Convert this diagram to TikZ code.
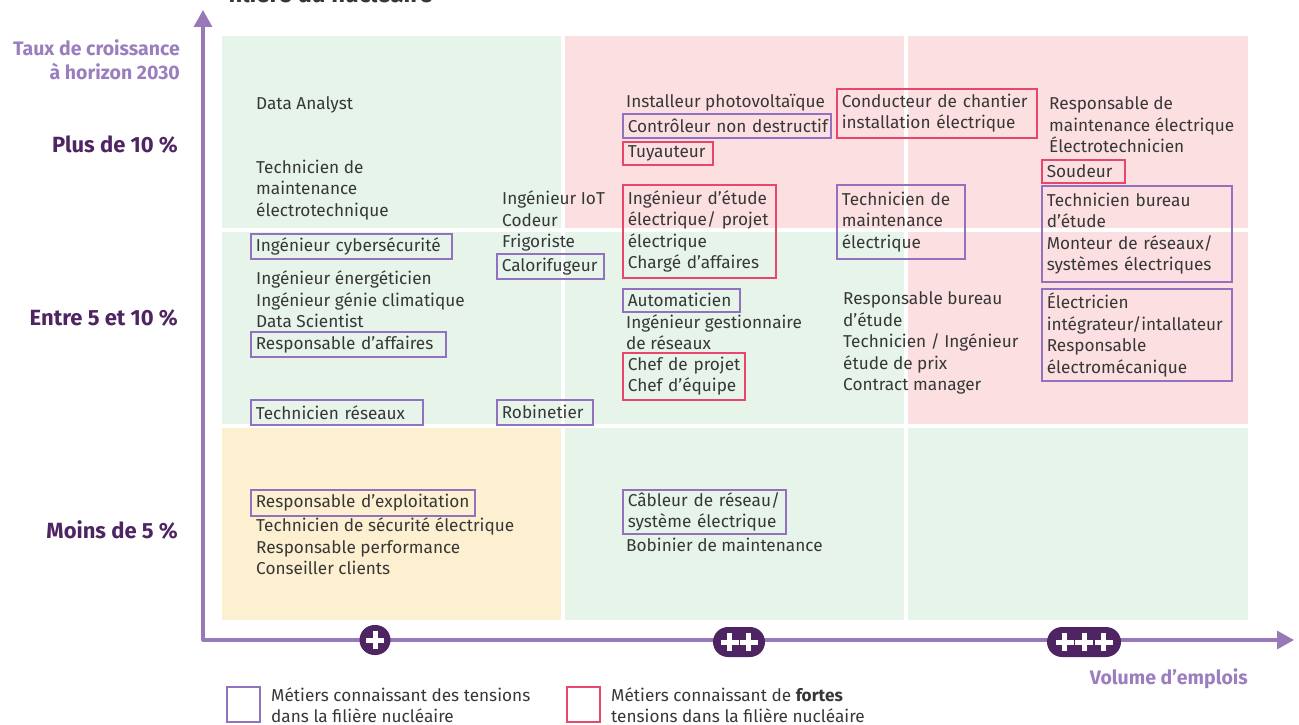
\documentclass[tikz,border=0pt]{standalone}
\usepackage{fontspec}
\setmainfont{Fira Sans}
\usetikzlibrary{arrows.meta}
\definecolor{cg}{RGB}{230,244,234}
\definecolor{cp}{RGB}{252,223,225}
\definecolor{cy}{RGB}{253,240,209}
\definecolor{axisc}{RGB}{151,121,185}
\definecolor{boxp}{RGB}{146,114,190}
\definecolor{boxr}{RGB}{233,70,110}
\definecolor{dp}{RGB}{78,37,98}
\definecolor{lp}{RGB}{155,126,190}
\definecolor{txtc}{RGB}{55,55,55}
\newcommand{\oneline}[1]{\mbox{#1}}
\tikzset{
  bodyfont/.style={font=\fontsize{17.2}{21.5}\selectfont},
  txt/.style={bodyfont, anchor=west, align=left, inner sep=0pt, text=txtc},
  pbox/.style={bodyfont, draw=boxp, line width=1.6pt, anchor=north west, align=left,
     inner xsep=5pt, inner ysep=0pt, text=txtc},
  rbox/.style={pbox, draw=boxr},
  lvl/.style={anchor=east, inner sep=0pt, text=dp, font=\bfseries\fontsize{22}{26}\selectfont},
  axlbl/.style={inner sep=0pt, text=lp, align=right, font=\bfseries\fontsize{19.5}{24}\selectfont},
  plus/.style={fill=dp, rounded corners=15pt, minimum height=30pt, inner sep=0pt},
  plusmk/.pic={\draw[white, line width=5pt] (-9,0) -- (9,0) (0,-9) -- (0,9);},
  legsq/.style={draw, line width=1.6pt, anchor=north west, minimum width=33pt, minimum height=35pt, inner sep=0pt},
  axis/.style={draw=axisc, line width=3.2pt, line join=round,
     {Triangle[width=18pt,length=17pt]}-{Triangle[width=18pt,length=17pt]}}
}
\begin{document}
\begin{tikzpicture}[x=1pt,y=-1pt]
\useasboundingbox (0,0) rectangle (1299,725);
% cells
\fill[cg] (222,36) rectangle (561,228);
\fill[cp] (565,36) rectangle (904,228);
\fill[cp] (908,36) rectangle (1248,228);
\fill[cg] (222,232) rectangle (561,424);
\fill[cg] (565,232) rectangle (904,424);
\fill[cp] (908,232) rectangle (1248,424);
\fill[cy] (222,428) rectangle (561,620);
\fill[cg] (565,428) rectangle (904,620);
\fill[cg] (908,428) rectangle (1248,620);
% title (cut off at the top edge, as in the reference)
\node[anchor=base west, inner sep=0pt, text=txtc, font=\bfseries\fontsize{24}{28}\selectfont] (title) at (228,3) {filière du nucléaire};
% axes
\coordinate (origin) at (203,640);
\coordinate (ytip) at (203,10);
\coordinate (xtip) at (1294,640);
\draw[axis] (ytip) -- (origin) -- (xtip);
% axis labels
\node[axlbl, anchor=east] (taux) at (180,60) {Taux de croissance\\à horizon 2030};
\node[lvl] (l1) at (178,145) {Plus de 10 \%};
\node[lvl] (l2) at (178,318) {Entre 5 et 10 \%};
\node[lvl] (l3) at (178,530) {Moins de 5 \%};
\node[axlbl, anchor=east] (vol) at (1248,679) {Volume d’emplois};
% volume markers
\node[plus, minimum width=31pt] (p1) at (375,640) {};
\pic at (p1.center) {plusmk};
\node[plus, minimum width=52pt] (p2) at (739,642) {};
\pic at ([xshift=-9.5pt]p2.center) {plusmk};
\pic at ([xshift=9.5pt]p2.center) {plusmk};
\node[plus, minimum width=74pt] (p3) at (1084,642) {};
\pic at ([xshift=-19.5pt]p3.center) {plusmk};
\pic at (p3.center) {plusmk};
\pic at ([xshift=19.5pt]p3.center) {plusmk};
% column 1
\node[txt] (da) at (256,105) {Data Analyst};
\node[txt] (tm) at (256,190) {Technicien de\\maintenance\\électrotechnique};
\node[txt] (iot) at (502,221) {Ingénieur IoT\\Codeur\\Frigoriste};
\node[pbox, text width=191pt, minimum height=25pt] (cyber) at (250,233) {\oneline{Ingénieur cybersécurité}};
\node[pbox, text width=97pt, minimum height=25pt] (calo) at (496,253) {\oneline{Calorifugeur}};
\node[txt] (ie) at (256,299.5) {Ingénieur énergéticien\\Ingénieur génie climatique\\Data Scientist};
\node[pbox, text width=185pt, minimum height=25pt] (raff) at (250,331) {\oneline{Responsable d’affaires}};
\node[pbox, text width=162pt, minimum height=25pt] (tres) at (250,399) {\oneline{Technicien réseaux}};
\node[pbox, text width=86pt, minimum height=25pt] (robi) at (496,399) {\oneline{Robinetier}};
\node[pbox, text width=214pt, minimum height=26pt] (rexp) at (250,489) {\oneline{Responsable d’exploitation}};
\node[txt] (ts) at (256,546.5) {Technicien de sécurité électrique\\Responsable performance\\Conseiller clients};
% column 2
\node[txt] (ip) at (626,103) {Installeur photovoltaïque};
\node[pbox, text width=198pt, minimum height=24pt] (cnd) at (622,113) {\oneline{Contrôleur non destructif}};
\node[rbox, text width=80pt, minimum height=23pt] (tuy) at (622,141) {\oneline{Tuyauteur}};
\node[rbox, text width=143pt, minimum height=93pt] (ied) at (622,184) {\oneline{Ingénieur d’étude}\\\oneline{électrique/ projet}\\\oneline{électrique}\\\oneline{Chargé d’affaires}};
\node[pbox, text width=107pt, minimum height=23pt] (auto) at (622,288) {\oneline{Automaticien}};
\node[txt] (ig) at (626,332) {Ingénieur gestionnaire\\de réseaux};
\node[rbox, text width=112pt, minimum height=47pt] (chef) at (622,352) {\oneline{Chef de projet}\\\oneline{Chef d’équipe}};
\node[pbox, text width=153pt, minimum height=44pt] (cab) at (622,489) {\oneline{Câbleur de réseau/}\\\oneline{système électrique}};
\node[txt] (bm) at (626,545) {Bobinier de maintenance};
% between columns 2 and 3
\node[rbox, text width=190pt, minimum height=49pt] (cond) at (836,88) {\oneline{Conducteur de chantier}\\\oneline{installation électrique}};
\node[pbox, text width=118pt, minimum height=74pt] (tme) at (836,184) {\oneline{Technicien de}\\\oneline{maintenance}\\\oneline{électrique}};
\node[txt] (rb) at (843,343) {Responsable bureau\\d’étude\\Technicien / Ingénieur\\étude de prix\\Contract manager};
% column 3
\node[txt] (rm) at (1049,125) {Responsable de\\maintenance électrique\\Électrotechnicien};
\node[rbox, text width=73pt, minimum height=23pt] (soud) at (1041,159) {\oneline{Soudeur}};
\node[pbox, text width=180pt, minimum height=96pt] (tbe) at (1041,185) {\oneline{Technicien bureau}\\\oneline{d’étude}\\\oneline{Monteur de réseaux/}\\\oneline{systèmes électriques}};
\node[pbox, text width=180pt, minimum height=92pt] (elec) at (1041,288) {\oneline{Électricien}\\\oneline{intégrateur/intallateur}\\\oneline{Responsable}\\\oneline{électromécanique}};
% legend
\node[legsq, draw=boxp] (legp) at (226,686) {};
\node[txt] (legpt) at (271,705) {Métiers connaissant des tensions\\dans la filière nucléaire};
\node[legsq, draw=boxr] (legr) at (566,686) {};
\node[txt] (legrt) at (611,705) {Métiers connaissant de \textbf{fortes}\\tensions dans la filière nucléaire};
\end{tikzpicture}
\end{document}
